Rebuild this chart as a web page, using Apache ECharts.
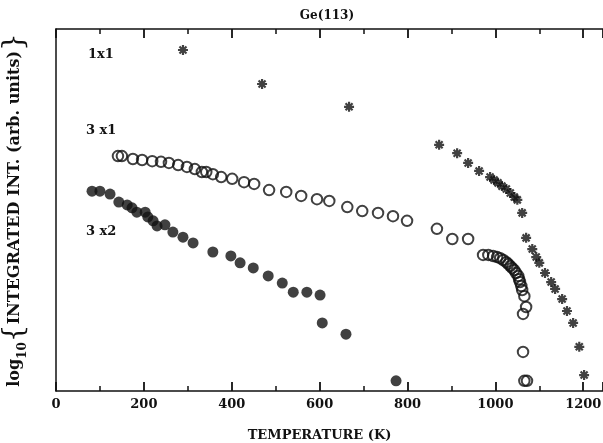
<!DOCTYPE html>
<html>
<head>
<meta charset="utf-8">
<script src="https://cdn.jsdelivr.net/npm/echarts@6/dist/echarts.min.js"></script>
<style>
html,body{margin:0;padding:0;background:#fff;}
#chart{width:603px;height:443px;}
</style>
</head>
<body>
<div id="chart"></div>
<script>
// Temperature (K) and log10 integrated intensity (arbitrary units)
var phase1x1 = [
  [289, 9.42], [469, 8.48], [667, 7.85],
  [872, 6.80], [913, 6.57], [938, 6.30], [963, 6.08], [988, 5.91],
  [997, 5.83], [1006, 5.75], [1015, 5.66], [1025, 5.58], [1034, 5.47],
  [1043, 5.36], [1050, 5.28], [1061, 4.92],
  [1070, 4.23], [1084, 3.92], [1093, 3.70], [1100, 3.54], [1113, 3.26],
  [1127, 3.01], [1136, 2.82], [1152, 2.54], [1163, 2.21], [1177, 1.88],
  [1191, 1.22], [1202, 0.44]
];
var phase3x1 = [
  [141, 6.49], [150, 6.49], [175, 6.41], [196, 6.38], [219, 6.35], [239, 6.33],
  [257, 6.30], [278, 6.24], [298, 6.19], [316, 6.13], [332, 6.05], [342, 6.05],
  [357, 5.99], [376, 5.91], [401, 5.86], [428, 5.77], [451, 5.72], [485, 5.55],
  [524, 5.50], [558, 5.39], [594, 5.30], [622, 5.25], [663, 5.08], [697, 4.97],
  [733, 4.92], [767, 4.83], [799, 4.70], [867, 4.48], [902, 4.20], [938, 4.20],
  [972, 3.76], [984, 3.76], [995, 3.73], [1004, 3.70], [1011, 3.67], [1018, 3.62],
  [1025, 3.56], [1029, 3.51], [1034, 3.45], [1038, 3.40], [1043, 3.34], [1047, 3.26],
  [1052, 3.18], [1054, 3.09], [1056, 3.01], [1059, 2.90], [1061, 2.79], [1066, 2.62],
  [1070, 2.32], [1063, 2.13], [1063, 1.08], [1066, 0.28], [1072, 0.28]
];
var phase3x2 = [
  [82, 5.52], [100, 5.52], [123, 5.44], [143, 5.22], [162, 5.14], [173, 5.06],
  [184, 4.94], [203, 4.94], [209, 4.81], [221, 4.70], [230, 4.56], [248, 4.59],
  [266, 4.39], [289, 4.25], [312, 4.09], [357, 3.84], [398, 3.73], [419, 3.54],
  [449, 3.40], [483, 3.18], [515, 2.98], [540, 2.73], [571, 2.73], [601, 2.65],
  [606, 1.88], [660, 1.57], [774, 0.28]
];
var xTicks = [0, 200, 400, 600, 800, 1000, 1200];
var phaseLabels = ['1x1', '3 x1', '3 x2'];
var titleText = 'Ge(113)';
var xName = 'TEMPERATURE (K)';

var serif = '"DejaVu Serif", "Liberation Serif", serif';
var ink = '#111';
var star = 'path://M0,5L10,5M5,0L5,10M1.5,1.5L8.5,8.5M1.5,8.5L8.5,1.5';

var chart = echarts.init(document.getElementById('chart'), null, {renderer: 'canvas'});

function makeX(pos, extra) {
  var o = {
    type: 'value', position: pos, min: 0, max: 1245, interval: 200,
    axisLine: {show: true, onZero: false, lineStyle: {color: ink, width: 1.5}},
    axisTick: {show: true, inside: true, length: 9, lineStyle: {color: ink, width: 1.8}},
    minorTick: {show: true, splitNumber: 2, length: 5, lineStyle: {color: ink, width: 1.5}},
    splitLine: {show: false}
  };
  return Object.assign(o, extra);
}

var option = {
  backgroundColor: '#fff',
  animation: false,
  title: {
    text: titleText, left: 322, top: 5, textAlign: 'center',
    textStyle: {fontFamily: serif, fontWeight: 'bold', fontSize: 12, color: ink}
  },
  grid: {show: false, left: 56, right: 0, top: 29, bottom: 52, containLabel: false, outerBoundsMode: 'none'},
  xAxis: [
    makeX('bottom', {
      name: xName, nameLocation: 'middle', nameGap: 38,
      nameTextStyle: {fontFamily: serif, fontWeight: 'bold', fontSize: 13, color: ink, padding: [0, 20, 0, 0]},
      axisLabel: {
        show: true, margin: 7, fontFamily: serif, fontWeight: 'bold', fontSize: 13, color: ink,
        formatter: function (v) { return xTicks.indexOf(v) >= 0 ? String(v) : ''; }
      }
    }),
    makeX('top', {axisLabel: {show: false}})
  ],
  yAxis: {
    type: 'value', min: 0, max: 10, position: 'left',
    axisLine: {show: true, onZero: false, lineStyle: {color: ink, width: 1.5}},
    axisTick: {show: false},
    axisLabel: {show: false},
    splitLine: {show: false},
    name: '{a|log}{s|10}{br|{}{b|INTEGRATED INT. (arb. units)}}',
    nameLocation: 'middle', nameRotate: 90, nameGap: 27,
    nameTextStyle: {
      fontFamily: serif, fontWeight: 'normal', fontSize: 28, color: ink,
      rich: {
        a: {fontFamily: serif, fontWeight: 'bold', fontSize: 16, color: ink, verticalAlign: 'middle', lineHeight: 28},
        s: {fontFamily: serif, fontWeight: 'bold', fontSize: 12, color: ink, verticalAlign: 'bottom', lineHeight: 28},
        br: {fontFamily: serif, fontWeight: 'normal', fontSize: 28, color: ink, verticalAlign: 'middle', lineHeight: 28},
        b: {fontFamily: serif, fontWeight: 'bold', fontSize: 16, color: ink, verticalAlign: 'middle', lineHeight: 28}
      }
    }
  },
  graphic: [
    {type: 'text', left: 88, top: 48, style: {text: phaseLabels[0], font: 'bold 13px ' + serif, fill: ink}},
    {type: 'text', left: 86, top: 124, style: {text: phaseLabels[1], font: 'bold 13px ' + serif, fill: ink}},
    {type: 'text', left: 86, top: 225, style: {text: phaseLabels[2], font: 'bold 13px ' + serif, fill: ink}}
  ],
  series: [
    {
      name: '1x1', type: 'scatter', data: phase1x1, symbol: star, symbolSize: 10,
      itemStyle: {color: 'rgba(0,0,0,0)', borderColor: ink, borderWidth: 2.2}
    },
    {
      name: '3x1', type: 'scatter', data: phase3x1, symbol: 'circle', symbolSize: 10.5,
      itemStyle: {color: 'rgba(255,255,255,0)', borderColor: ink, borderWidth: 2}
    },
    {
      name: '3x2', type: 'scatter', data: phase3x2, symbol: 'circle', symbolSize: 11,
      itemStyle: {color: ink, borderColor: ink, borderWidth: 0}
    }
  ]
};
chart.setOption(option);
</script>
</body>
</html>
